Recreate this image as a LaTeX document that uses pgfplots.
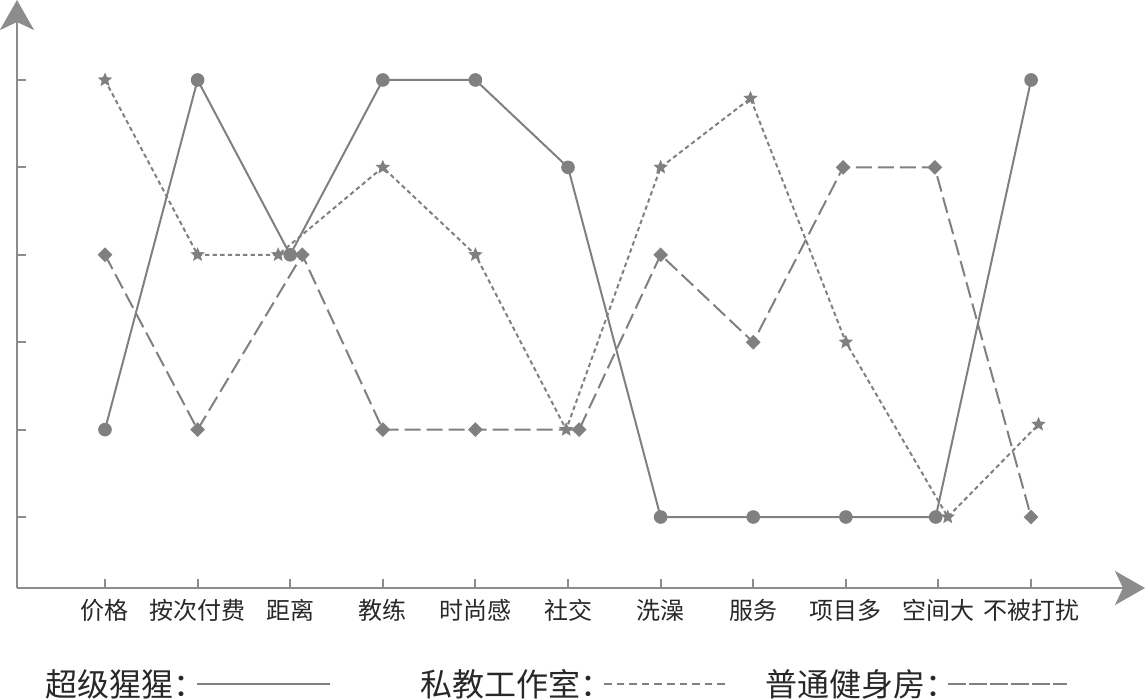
\documentclass[border=0pt]{standalone}
\usepackage{pgfplots}
\pgfplotsset{compat=1.18}
\usepackage{fontspec}
\newfontfamily\cjk{Noto Sans CJK SC}
\usetikzlibrary{arrows.meta}
\definecolor{lg}{RGB}{128,128,128}
\definecolor{ax}{RGB}{140,140,140}
\definecolor{tx}{RGB}{40,40,40}
\pgfdeclareplotmark{fstar}{%
  \pgfpathmoveto{\pgfpointpolar{90}{\pgfplotmarksize}}%
  \pgfpathlineto{\pgfpointpolar{126}{0.45\pgfplotmarksize}}%
  \pgfpathlineto{\pgfpointpolar{162}{\pgfplotmarksize}}%
  \pgfpathlineto{\pgfpointpolar{198}{0.45\pgfplotmarksize}}%
  \pgfpathlineto{\pgfpointpolar{234}{\pgfplotmarksize}}%
  \pgfpathlineto{\pgfpointpolar{270}{0.45\pgfplotmarksize}}%
  \pgfpathlineto{\pgfpointpolar{306}{\pgfplotmarksize}}%
  \pgfpathlineto{\pgfpointpolar{342}{0.45\pgfplotmarksize}}%
  \pgfpathlineto{\pgfpointpolar{18}{\pgfplotmarksize}}%
  \pgfpathlineto{\pgfpointpolar{54}{0.45\pgfplotmarksize}}%
  \pgfpathclose\pgfusepathqfill}
\begin{document}
\begin{tikzpicture}
\begin{axis}[
  scale only axis, width=564pt, height=294pt,
  xmin=-0.95, xmax=11.23, ymin=0.188, ymax=6.915,
  axis lines=left,
  axis line style={ax, line width=1.2pt, -{Stealth[length=15pt,width=17pt,inset=4pt]}},
  xtick={0,...,10},
  xticklabels={价格,按次付费,距离,教练,时尚感,社交,洗澡,服务,项目多,空间大,不被打扰},
  ytick={1,...,6}, yticklabels={},
  tick align=inside, major tick length=4.5pt,
  tick style={ax, line width=1pt},
  x tick label style={font=\cjk\fontsize{12pt}{14pt}\selectfont, text=tx, yshift=-2pt},
  clip=false,
]
\addplot[lg, line width=1pt, mark=*, mark size=2.9pt, mark options={solid, fill=lg, draw=lg}]
  coordinates {(0,2) (1,6) (2,4) (3,6) (4,6) (5,5) (6,1) (7,1) (8,1) (8.97,1) (10,6)};
\addplot[lg, line width=1pt, dash pattern=on 2.2pt off 1.6pt, mark=fstar, mark size=3.8pt, mark options={solid, fill=lg}]
  coordinates {(0,6) (1,4) (1.87,4) (3,5) (4,4) (4.98,2) (6,5) (6.97,5.79) (8,3) (9.1,1) (10.08,2.06)};
\addplot[lg, line width=1pt, dash pattern=on 8pt off 3pt, mark=square*, mark size=2.1pt, mark options={solid, fill=lg, rotate=45}]
  coordinates {(0,4) (1,2) (2.13,4) (3,2) (4,2) (5.12,2) (6,4) (7,3) (7.97,5) (8.96,5) (10,1)};
\end{axis}
\begin{scope}[font=\cjk\fontsize{16pt}{18pt}\selectfont, text=tx]
\node[anchor=west, inner sep=0pt] at (14pt,-48pt) {超级猩猩：};
\draw[lg, line width=1pt] (90pt,-48pt) -- (156.5pt,-48pt);
\node[anchor=west, inner sep=0pt] at (201.5pt,-48pt) {私教工作室：};
\draw[lg, line width=0.9pt, dash pattern=on 3.8pt off 2.5pt] (293.5pt,-48pt) -- (354pt,-48pt);
\node[anchor=west, inner sep=0pt] at (374pt,-48pt) {普通健身房：};
\draw[lg, line width=0.9pt, dash pattern=on 9pt off 1.5pt] (465.5pt,-48pt) -- (525pt,-48pt);
\end{scope}
\pgfresetboundingbox
\path (-8.5pt,-56pt) rectangle (564pt,294pt);
\end{tikzpicture}
\end{document}
